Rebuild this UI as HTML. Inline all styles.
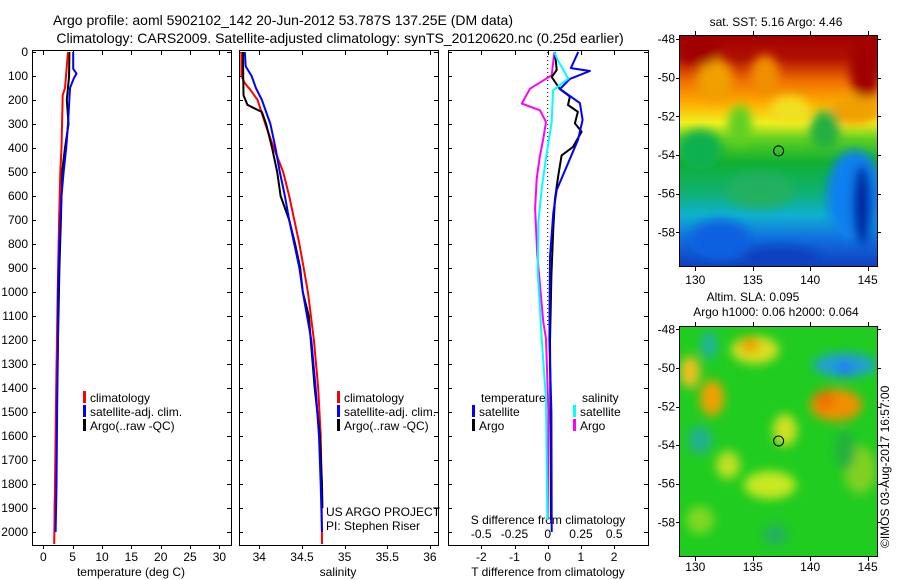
<!DOCTYPE html>
<html><head><meta charset="utf-8">
<style>
html,body{margin:0;padding:0;background:#fff;}
svg{display:block;font-family:"Liberation Sans",sans-serif;}
</style></head>
<body>
<svg id="c" width="900" height="580" viewBox="0 0 900 580" xmlns="http://www.w3.org/2000/svg">
<defs>
<linearGradient id="sstg" x1="0" y1="0" x2="0" y2="1">
<stop offset="0" stop-color="#a00000"/><stop offset="0.1" stop-color="#b01000"/>
<stop offset="0.2" stop-color="#f07000"/><stop offset="0.3" stop-color="#ffb000"/>
<stop offset="0.38" stop-color="#f0f020"/><stop offset="0.45" stop-color="#60d020"/>
<stop offset="0.55" stop-color="#10b030"/><stop offset="0.68" stop-color="#10b070"/>
<stop offset="0.78" stop-color="#10b0d0"/><stop offset="0.88" stop-color="#1070e0"/>
<stop offset="1" stop-color="#1040c0"/></linearGradient>
<filter id="bl"><feGaussianBlur stdDeviation="5"/></filter>
<clipPath id="m1"><rect x="680" y="35" width="197" height="231"/></clipPath>
<clipPath id="m2"><rect x="680" y="326" width="197" height="230"/></clipPath>
</defs>
<text x="283" y="25" font-size="14" text-anchor="middle">Argo profile: aoml 5902102_142 20-Jun-2012 53.787S 137.25E (DM data)</text>
<text x="340" y="43" font-size="14" text-anchor="middle">Climatology: CARS2009. Satellite-adjusted climatology: synTS_20120620.nc (0.25d earlier)</text>

<g clip-path="url(#m1)">
<rect x="680" y="35" width="197" height="231" fill="url(#sstg)"/>
<g filter="url(#bl)">
<ellipse cx="715" cy="80" rx="18" ry="22" fill="#f0a000"/>
<ellipse cx="765" cy="75" rx="14" ry="20" fill="#f09000"/>
<ellipse cx="865" cy="70" rx="15" ry="30" fill="#a00000"/>
<ellipse cx="700" cy="50" rx="20" ry="15" fill="#a00000"/>
<ellipse cx="740" cy="125" rx="12" ry="20" fill="#60d020"/>
<ellipse cx="790" cy="110" rx="20" ry="14" fill="#f0e020"/>
<ellipse cx="855" cy="110" rx="25" ry="15" fill="#f0a000"/>
<ellipse cx="825" cy="130" rx="15" ry="20" fill="#20b040"/>
<ellipse cx="700" cy="150" rx="22" ry="20" fill="#10b050"/>
<ellipse cx="855" cy="195" rx="28" ry="45" fill="#1080f0"/>
<ellipse cx="862" cy="205" rx="9" ry="40" fill="#0020a0"/>
<ellipse cx="720" cy="240" rx="30" ry="20" fill="#1060e0"/>
<ellipse cx="780" cy="258" rx="40" ry="12" fill="#1040c0"/>
<ellipse cx="760" cy="190" rx="35" ry="18" fill="#20b060"/>
</g>
</g>
<rect x="679.5" y="35.5" width="198" height="231" fill="none" stroke="#000"/>

<g clip-path="url(#m2)">
<rect x="680" y="326" width="197" height="231" fill="#20cc20"/>
<g filter="url(#bl)">
<ellipse cx="755" cy="350" rx="24" ry="14" fill="#d8e020"/>
<ellipse cx="750" cy="345" rx="10" ry="8" fill="#f0a000"/>
<ellipse cx="709" cy="345" rx="8" ry="14" fill="#20b0a0"/>
<ellipse cx="690" cy="372" rx="10" ry="16" fill="#f0c020"/>
<ellipse cx="712" cy="398" rx="12" ry="18" fill="#f0a000"/>
<ellipse cx="700" cy="440" rx="12" ry="14" fill="#20b090"/>
<ellipse cx="845" cy="365" rx="32" ry="12" fill="#20a0d0"/>
<ellipse cx="845" cy="368" rx="10" ry="8" fill="#2080f0"/>
<ellipse cx="836" cy="405" rx="26" ry="16" fill="#f09000"/>
<ellipse cx="825" cy="400" rx="10" ry="10" fill="#f07000"/>
<ellipse cx="785" cy="430" rx="12" ry="16" fill="#d0e020"/>
<ellipse cx="770" cy="485" rx="26" ry="14" fill="#c8e820"/>
<ellipse cx="728" cy="465" rx="12" ry="14" fill="#c0e020"/>
<ellipse cx="775" cy="535" rx="12" ry="10" fill="#20b060"/>
<ellipse cx="860" cy="470" rx="16" ry="24" fill="#80d020"/>
<ellipse cx="845" cy="450" rx="10" ry="20" fill="#20b040"/>
<ellipse cx="700" cy="520" rx="14" ry="14" fill="#80d820"/>
</g>
</g>
<rect x="679.5" y="326.5" width="198" height="230" fill="none" stroke="#000"/>
<text x="776" y="26" font-size="12" text-anchor="middle">sat. SST: 5.16 Argo: 4.46</text>
<text x="753" y="301" font-size="12" text-anchor="middle">Altim. SLA: 0.095</text>
<text x="776" y="316" font-size="12" text-anchor="middle">Argo h1000: 0.06 h2000: 0.064</text>
<text transform="translate(889,548) rotate(-90)" font-size="12">©IMOS 03-Aug-2017 16:57:00</text>
<g id="plots"></g>
</svg>
<script>
// depth axis
const depthTicks = [0,100,200,300,400,500,600,700,800,900,1000,1100,1200,1300,1400,1500,1600,1700,1800,1900,2000];
const tempTicks = [0,5,10,15,20,25,30];
const salTicks = [34,34.5,35,35.5,36];
const tdiffTicks = [-2,-1,0,1,2];
const sdiffTicks = [-0.5,-0.25,0,0.25,0.5];
const sdiffLabels = ["-0.5","-0.25","0","0.25","0.5"];
const lonTicks = [130,135,140,145];
const latTicks = [-48,-50,-52,-54,-56,-58];
// temperature profiles
const tClimDepth = [0,150,180,400,500,700,1000,1400,1600,1900,2050];
const tClim = [4.2,3.7,3.3,3.1,2.9,2.7,2.45,2.2,2.1,1.95,1.85];
const tSatDepth = [0,70,90,110,150,300,400,500,600,800,1000,1200,1500,1800,2000];
const tSat = [5.1,5.1,5.65,5.2,4.55,4.2,3.9,3.45,3.1,2.75,2.5,2.5,2.35,2.25,2.1];
const tArgoDepth = [0,100,200,300,400,500,700,900,1200,1500,1700,1900,2000];
const tArgo = [4.45,4.4,4.0,4.3,3.7,3.2,3.0,2.75,2.5,2.25,2.15,1.95,2.0];
// salinity profiles
const sClimDepth = [0,100,130,160,200,300,400,500,600,700,800,900,1000,1200,1400,1600,1800,2050];
const sClim = [33.79,33.79,33.83,33.90,33.98,34.07,34.17,34.28,34.35,34.41,34.47,34.52,34.57,34.64,34.69,34.72,34.73,34.735];
const sSatDepth = [0,60,100,150,200,300,400,500,600,700,800,900,1000,1200,1400,1600,1800,2000];
const sSat = [33.83,33.84,33.91,33.96,34.03,34.13,34.19,34.24,34.30,34.35,34.41,34.47,34.51,34.61,34.66,34.70,34.72,34.735];
const sArgoDepth = [0,60,180,220,250,300,400,500,600,700,800,900,1000,1100,1400,1600,1800,1900];
const sArgo = [33.81,33.81,33.815,33.86,34.03,34.08,34.15,34.21,34.25,34.35,34.42,34.48,34.51,34.58,34.65,34.71,34.735,34.74];
// differences
const dTSatDepth = [0,67,79,112,154,213,283,367,478,575,671,853,1200,1500,2000];
const dTSat = [0.92,0.7,1.27,0.67,0.37,0.97,1.05,0.91,0.57,0.27,0.17,0.07,0.05,0.11,0.12];
const dTArgoDepth = [0,75,104,155,186,221,249,297,332,396,431,514,611,736,931,1208,1600,1950];
const dTArgo = [0.22,0.27,0.12,0.37,0.67,0.61,0.91,0.82,1.02,0.76,0.42,0.32,0.22,0.17,0.11,0.07,0.09,0.1];
const dSSatDepth = [0,28,111,160,292,431,569,708,917,1194,1450,1950];
const dSSat = [0.05,0.07,0.155,0.04,0.03,-0.01,-0.045,-0.07,-0.075,-0.045,-0.013,-0.003];
const dSArgoDepth = [0,97,153,215,243,292,361,431,528,653,847,1125,1194,1500,1950];
const dSArgo = [0.05,0.03,-0.133,-0.195,-0.058,-0.013,-0.033,-0.058,-0.083,-0.095,-0.078,-0.033,-0.013,0.005,0.0];
const argoLon = 137.25, argoLat = -53.787;

const NS='http://www.w3.org/2000/svg';
const G=document.getElementById('plots');
function el(tag,attrs,parent){const e=document.createElementNS(NS,tag);for(const k in attrs)e.setAttribute(k,attrs[k]);(parent||G).appendChild(e);return e;}
const yD = d => 52 + d*0.24;
const xT = t => 43.3 + t*5.87;
const xS = s => 259.3 + (s-34)*85.3;
const xDT = v => 547.7 + v*33.2;
const xDS = v => 547.7 + v*133;
const xLon = l => 695.3 + (l-130)*11.49;
const yLat1 = l => 39 + (-48-l)*19.33;
const yLat2 = l => 329.3 + (-48-l)*19.3;

const panels=[{x0:32,x1:231,name:'temperature-panel'},{x0:239,x1:438,name:'salinity-panel'},{x0:448,x1:648,name:'difference-panel'}];
panels.forEach((p,i)=>{
  const r=el('rect',{x:p.x0+0.5,y:50.5,width:p.x1-p.x0,height:495,fill:'none',stroke:'#000'});
  
  
  depthTicks.forEach(d=>{
    const y=Math.round(yD(d))+0.5;
    el('line',{x1:p.x0,x2:p.x0+4,y1:y,y2:y,stroke:'#000'});
    el('line',{x1:p.x1-4,x2:p.x1,y1:y,y2:y,stroke:'#000'});
  });
});
depthTicks.forEach(d=>{
  const t=el('text',{x:28,y:yD(d)+4,'font-size':12,'text-anchor':'end'});t.textContent=d;
  
  
});
function xticks(arr,fx,labels,ylab,name){
  arr.forEach((v,i)=>{
    const x=Math.round(fx(v))+0.5;
    el('line',{x1:x,x2:x,y1:51,y2:55,stroke:'#000'});
    el('line',{x1:x,x2:x,y1:545,y2:549,stroke:'#000'});
    const t=el('text',{x:fx(v),y:ylab,'font-size':12,'text-anchor':'middle'});t.textContent=labels?labels[i]:v;
    
    
  });
}
xticks(tempTicks,xT,null,561,'temperature-tick-label');
xticks(salTicks,xS,null,561,'salinity-tick-label');
xticks(tdiffTicks,xDT,null,561,'t-difference-tick-label');
sdiffTicks.forEach((v,i)=>{
  const t=el('text',{x:xDS(v),y:538,'font-size':12,'text-anchor':'middle'});t.textContent=sdiffLabels[i];
  
  
});
[['temperature (deg C)',131,'temperature-axis-title'],['salinity',338,'salinity-axis-title'],['T difference from climatology',548,'t-difference-axis-title']].forEach(a=>{
  const t=el('text',{x:a[1],y:576,'font-size':12,'text-anchor':'middle'});t.textContent=a[0];
  
  
});
{const t=el('text',{x:548,y:524,'font-size':12,'text-anchor':'middle'});t.textContent='S difference from climatology';

}
{const l=el('line',{x1:547.7,x2:547.7,y1:52,y2:yD(1150),stroke:'#000','stroke-dasharray':'1,3'});

}

function line(ds,vs,fx,color,name,w){
  const pts=ds.map((d,i)=>fx(vs[i]).toFixed(1)+','+yD(d).toFixed(1)).join(' ');
  const p=el('polyline',{points:pts,fill:'none',stroke:color,'stroke-width':w||2,'stroke-linejoin':'round'});
  
  
}
line(tArgoDepth,tArgo,xT,'#000','temperature-argo-line');
line(tClimDepth,tClim,xT,'#f00','temperature-climatology-line');
line(tSatDepth,tSat,xT,'#00f','temperature-satellite-line');
line(sClimDepth,sClim,xS,'#f00','salinity-climatology-line');
line(sArgoDepth,sArgo,xS,'#000','salinity-argo-line');
line(sSatDepth,sSat,xS,'#00f','salinity-satellite-line');
line(dSArgoDepth,dSArgo,xDS,'#f0f','s-difference-argo-line');
line(dTArgoDepth,dTArgo,xDT,'#000','t-difference-argo-line');
line(dTSatDepth,dTSat,xDT,'#00f','t-difference-satellite-line');
line(dSSatDepth,dSSat,xDS,'#0ff','s-difference-satellite-line');

function legend(x,y,color,label,name){
  el('rect',{x:x,y:y-9,width:3,height:12,fill:color});
  const t=el('text',{x:x+7,y:y+2,'font-size':12});t.textContent=label;
  
  
}
legend(83,400,'#f00','climatology','legend-temperature-climatology');
legend(83,414,'#00f','satellite-adj. clim.','legend-temperature-satellite');
legend(83,428,'#000','Argo(..raw -QC)','legend-temperature-argo');
legend(337,400,'#f00','climatology','legend-salinity-climatology');
legend(337,414,'#00f','satellite-adj. clim.','legend-salinity-satellite');
legend(337,428,'#000','Argo(..raw -QC)','legend-salinity-argo');
{const t=el('text',{x:481,y:402,'font-size':12});t.textContent='temperature';

}
{const t=el('text',{x:582,y:402,'font-size':12});t.textContent='salinity';

}
legend(472,414,'#00f','satellite','legend-t-diff-satellite');
legend(472,428,'#000','Argo','legend-t-diff-argo');
legend(573,414,'#0ff','satellite','legend-s-diff-satellite');
legend(573,428,'#f0f','Argo','legend-s-diff-argo');
{const t=el('text',{x:326,y:516,'font-size':12});t.textContent='US ARGO PROJECT';

}
{const t=el('text',{x:326,y:530,'font-size':12});t.textContent='PI: Stephen Riser';

}

function mapAxes(yTop,yBot,fy,xlabY,name){
  latTicks.forEach(l=>{
    const y=Math.round(fy(l))+0.5;
    el('line',{x1:676,x2:680,y1:y,y2:y,stroke:'#000'});
    el('line',{x1:877,x2:881,y1:y,y2:y,stroke:'#000'});
    const t=el('text',{x:675,y:fy(l)+4,'font-size':12,'text-anchor':'end'});t.textContent=l;
    
    
  });
  lonTicks.forEach(l=>{
    const x=Math.round(xLon(l))+0.5;
    el('line',{x1:x,x2:x,y1:yTop-4,y2:yTop,stroke:'#000'});
    el('line',{x1:x,x2:x,y1:yBot,y2:yBot+4,stroke:'#000'});
    const t=el('text',{x:xLon(l),y:xlabY,'font-size':12,'text-anchor':'middle'});t.textContent=l;
    
    
  });
  const c=el('circle',{cx:xLon(argoLon),cy:fy(argoLat),r:5,fill:'none',stroke:'#000'});
  
  
}
mapAxes(35,267,yLat1,284,'sst-map');
mapAxes(326,557,yLat2,571,'sla-map');
</script>
</body></html>
